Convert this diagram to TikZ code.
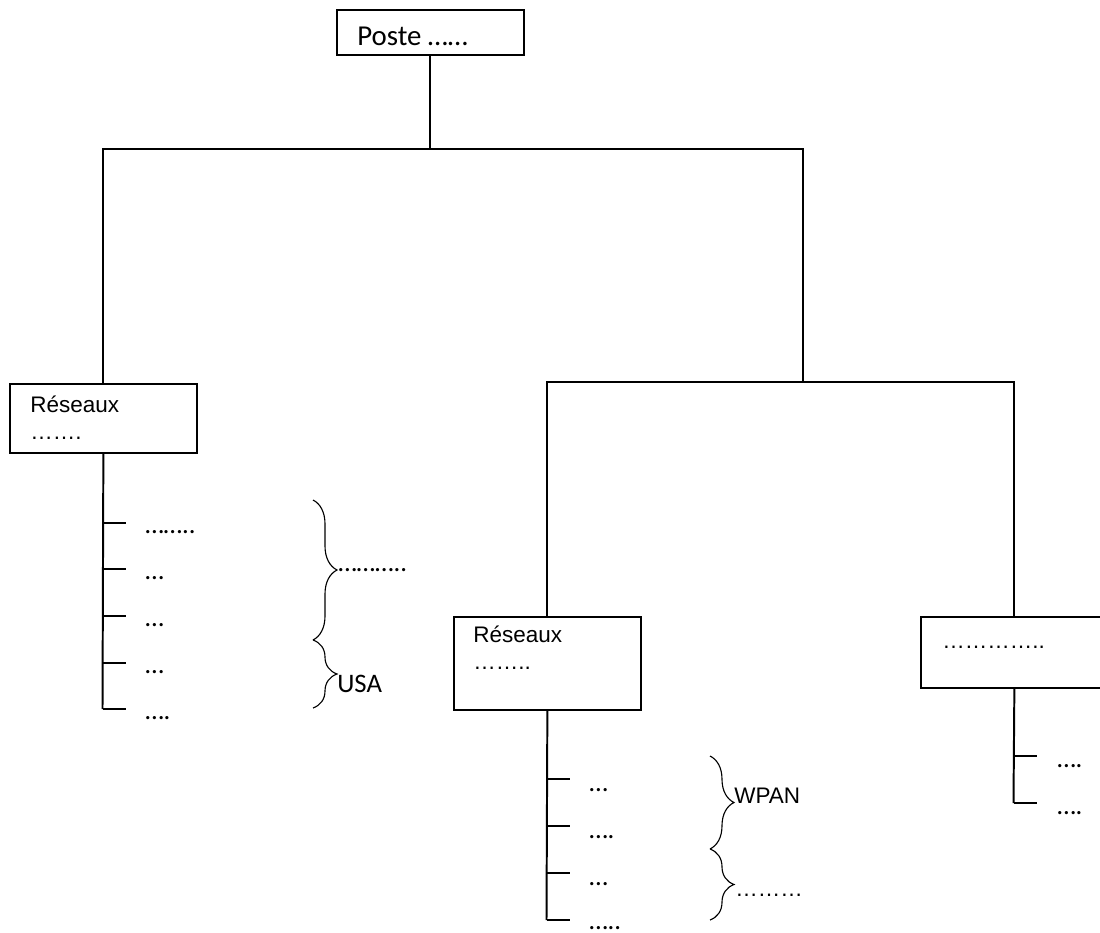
\documentclass[tikz,border=0pt]{standalone}
\usepackage{fontspec}
\usepackage{tikz}
\usetikzlibrary{decorations.pathreplacing}
\setmainfont{Carlito}
\newfontfamily\arialf{Liberation Sans}

\begin{document}
\begin{tikzpicture}[x=0.025cm,y=-0.025cm,
        box/.style={draw,line width=1.2pt,minimum width=4.675cm,inner sep=0pt,anchor=north west},
        link/.style={line width=1.4pt},
        curly/.style={line width=0.8pt,decorate,decoration={brace,amplitude=0.6cm}},
        item/.style={font=\fontsize{19}{22}\selectfont,inner sep=0pt,anchor=base west},
        heading/.style={font=\arialf\fontsize{16}{18.6}\selectfont,inner sep=0pt,anchor=north west,align=left}
    ]
    \useasboundingbox (0,0) rectangle (1100,933);

    % boxes
    \node[box,minimum height=1.125cm] (poste) at (336,9) {};
    \node[box,minimum height=1.725cm] (resA) at (9,383) {};
    \node[box,minimum height=2.325cm] (resB) at (453,616) {};
    \node[box,minimum height=1.775cm] (autre) at (920,616) {};

    \node[item,font=\fontsize{20.5}{24}\selectfont] (postetxt) at (357,46) {Poste ……};
    \node[heading] (resAtxt) at (30,396) {Réseaux\\…….};
    \node[heading] (resBtxt) at (473,626) {Réseaux\\……..};
    \node[heading,anchor=base west] (autretxt) at (942,648) {…………..};

    % tree
    \coordinate (hub) at (803,149);
    \coordinate (hubB) at (803,382);
    \draw[link] (poste.south) -- (poste.south |- hub);
    \draw[link] (resA.north) |- (hub) -- (hubB);
    \draw[link] (resB.north) |- (autre.north |- hubB) -- (autre.north);

    % left list
    \foreach \y/\t [count=\i] in {523/{……..},569/{…},616/{…},663/{…},709/{….}} {
        \coordinate (a\i) at (102.5,\y);
        \draw[link] (a\i) -- ++(23,0);
        \node[item] (ta\i) at (145,\y+10.5) {\t};
    }
    \draw[link] (resA.south) -- (a5);

    \coordinate (ba1) at (313,500);
    \coordinate (ba2) at (313,640);
    \coordinate (ba3) at (313,708);
    \draw[curly] (ba1) -- (ba2);
    \draw[curly] (ba2) -- (ba3);
    \node[item] (la1) at (338,571) {………..};
    \node[item] (la2) at (337,692) {USA};

    % middle list
    \foreach \y/\t/\d [count=\i] in {779/{…}/12.5,826/{….}/12.5,873/{…}/12.5,920/{…..}/9} {
        \coordinate (b\i) at (546.5,\y);
        \draw[link] (b\i) -- ++(23,0);
        \node[item] (tb\i) at (589,\y+\d) {\t};
    }
    \draw[link] (resB.south) -- (b4);

    \coordinate (bb1) at (710,756);
    \coordinate (bb2) at (710,849);
    \coordinate (bb3) at (710,920);
    \draw[curly] (bb1) -- (bb2);
    \draw[curly] (bb2) -- (bb3);
    \node[heading,anchor=base west] (lb1) at (734,803) {WPAN};
    \node[heading,anchor=base west] (lb2) at (735,896) {………};

    % right list
    \foreach \y/\t [count=\i] in {756/{….},803/{….}} {
        \coordinate (c\i) at (1013.5,\y);
        \draw[link] (c\i) -- ++(23,0);
        \node[item] (tc\i) at (1057,\y+11) {\t};
    }
    \draw[link] (autre.south) -- (c2);

\end{tikzpicture}
\end{document}
